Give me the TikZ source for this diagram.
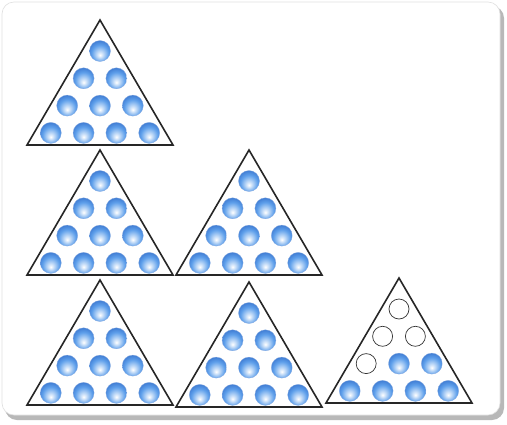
\documentclass[tikz,border=0pt]{standalone}
\usetikzlibrary{calc}
\definecolor{ballblue}{RGB}{95,160,235}
\definecolor{balledge}{RGB}{55,115,205}
\pgfdeclareradialshading{myball}{\pgfpoint{0bp}{-10bp}}{%
  color(0bp)=(white); color(8bp)=(ballblue!40); color(20bp)=(ballblue); color(32bp)=(balledge); color(50bp)=(balledge)}
\tikzset{
  tri/.style={draw=black!85, line width=1.6pt, line join=miter, fill=white},
  fullball/.style={shading=myball, draw=balledge!60, line width=0.3pt},
  emptyball/.style={draw=black!80, line width=0.7pt, fill=white},
  frame/.style={draw=black!12, line width=0.6pt, fill=white, rounded corners=12pt},
  shadowframe/.style={fill=black!28, rounded corners=12pt}
}
\newcommand\balltri[3]{%
  \draw[tri] (#1,#2) -- ++(-73,125) -- ++(146,0) -- cycle;
  \foreach \i in {0,...,3}{
    \foreach \j in {0,...,\i}{
      \pgfmathtruncatemacro\kk{\i*(\i+1)/2+\j+1}
      \pgfmathsetmacro\bx{#1+(\j-\i/2)*32.8}
      \pgfmathsetmacro\by{#2+31+\i*27.3}
      \ifnum\kk>#3
        \path[fullball] (\bx,\by) circle[radius=10.5];
      \else
        \path[emptyball] (\bx,\by) circle[radius=10];
      \fi
    }
  }
}
\begin{document}
\begin{tikzpicture}[x=1pt,y=-1pt]
\useasboundingbox (0,0) rectangle (507,424);
\fill[white] (0,0) rectangle (507,424);
\path[shadowframe] (5,6) rectangle (504,420);
\path[frame] (2,2) rectangle (500,415);
\balltri{100}{20}{0}
\balltri{100}{150}{0}
\balltri{249}{150}{0}
\balltri{100}{280}{0}
\balltri{249}{282}{0}
\balltri{399}{278}{4}
\end{tikzpicture}
\end{document}
